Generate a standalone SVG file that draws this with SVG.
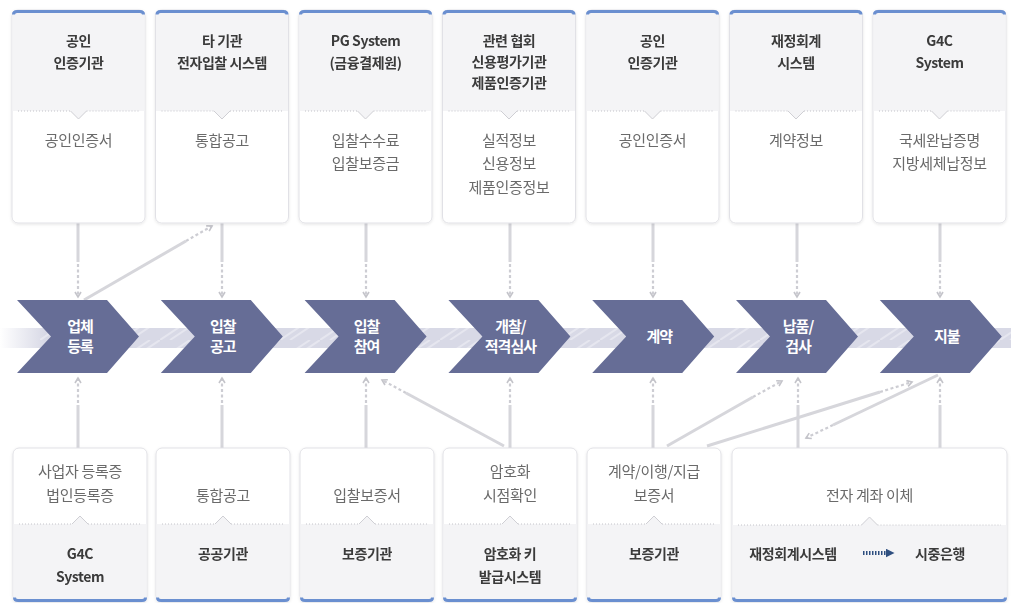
<svg xmlns="http://www.w3.org/2000/svg" xmlns:xlink="http://www.w3.org/1999/xlink" width="1011" height="603" viewBox="0 0 1011 603">
<style>
  .ttl{font-family:"Noto Sans CJK KR","Noto Sans",sans-serif;font-size:14px;font-weight:700;fill:#3a3a3a;text-anchor:middle;letter-spacing:-0.4px}
  .bdy{font-family:"Noto Sans CJK KR","Noto Sans",sans-serif;font-size:15px;font-weight:400;fill:#6a6a6a;text-anchor:middle;letter-spacing:-0.3px}
  .chv{font-family:"Noto Sans CJK KR","Noto Sans",sans-serif;font-size:15px;font-weight:700;fill:#ffffff;text-anchor:middle;letter-spacing:-1px}
  .solid{stroke:#d6d6db;stroke-width:3;fill:none}
  .dash{stroke:#cdcdd3;stroke-width:2.2;stroke-dasharray:3 2.5;fill:none}
  .card{fill:#ffffff;stroke:#e1e1e6;stroke-width:1}
  .gray{fill:#f4f4f6}
  .dots{stroke:#c4c4ca;stroke-width:1;stroke-dasharray:1 2;fill:none}
  .vee{stroke:#cfcfd4;stroke-width:1;fill:none}
  .cap{stroke:#6b8fd0;stroke-width:3;fill:none}
  .chev{fill:#666d96}
</style>
<defs>
  <filter id="sh" x="-10%" y="-10%" width="120%" height="120%">
    <feDropShadow dx="0" dy="1" stdDeviation="1.5" flood-color="#000" flood-opacity="0.10"/>
  </filter>
  <marker id="ah" viewBox="0 0 8 8" refX="6" refY="4" markerWidth="8" markerHeight="8" markerUnits="userSpaceOnUse" orient="auto">
    <path d="M1,1 L6,4 L1,7" stroke="#c4c4ca" stroke-width="1.6" fill="none"/>
  </marker>
  <marker id="ahb" viewBox="0 0 8 8" refX="4" refY="4" markerWidth="9" markerHeight="9" markerUnits="userSpaceOnUse" orient="auto">
    <path d="M0,0 L8,4 L0,8 Z" fill="#2f4f80"/>
  </marker>
  <linearGradient id="bandg" x1="0" y1="0" x2="1" y2="0">
    <stop offset="0" stop-color="#ffffff"/>
    <stop offset="0.045" stop-color="#d8d9e6"/>
    <stop offset="1" stop-color="#d8d9e6"/>
  </linearGradient>
  <pattern id="stripes" width="40" height="20" patternUnits="userSpaceOnUse">
    <path d="M0,20 L30,0 M10,20 L40,0" stroke="#ffffff" stroke-opacity="0.35" stroke-width="2"/>
  </pattern>
  <g id="topbox">
    <rect class="card" x="0" y="0" width="133" height="213" rx="6"/>
    <path class="gray" d="M0.5,6 Q0.5,0.5 6,0.5 H127 Q132.5,0.5 132.5,6 V101 H74.5 L66.5,109 L58.5,101 H0.5 Z"/>
    <path class="dots" d="M6,101 H58.5 M74.5,101 H127"/>
    <path class="vee" d="M58.5,101 L66.5,109 L74.5,101"/>
    <path class="cap" d="M1.5,4.5 Q1.5,1.5 5,1.5 H128 Q131.5,1.5 131.5,4.5"/>
  </g>
  <g id="botbox">
    <rect class="card" x="0" y="0" width="134" height="154" rx="6"/>
    <path class="gray" d="M0.5,76 H59 L67,68 L75,76 H133.5 V148 Q133.5,153.5 128,153.5 H6 Q0.5,153.5 0.5,148 Z"/>
    <path class="dots" d="M6,76 H59 M75,76 H128"/>
    <path class="vee" d="M59,76 L67,68 L75,76"/>
    <path class="cap" d="M1.5,149.5 Q1.5,152.5 5,152.5 H129 Q132.5,152.5 132.5,149.5"/>
  </g>
  <g id="botwide">
    <rect class="card" x="0" y="0" width="275" height="154" rx="6"/>
    <path class="gray" d="M0.5,77 H129.5 L137.5,69 L145.5,77 H274.5 V148 Q274.5,153.5 269,153.5 H6 Q0.5,153.5 0.5,148 Z"/>
    <path class="dots" d="M6,77 H129.5 M145.5,77 H269"/>
    <path class="vee" d="M129.5,77 L137.5,69 L145.5,77"/>
    <path class="cap" d="M1.5,149.5 Q1.5,152.5 5,152.5 H270 Q273.5,152.5 273.5,149.5"/>
  </g>
  <polygon id="chevshape" class="chev" points="0,0 90,0 122,36.5 90,73 0,73 34,36.5"/>
</defs>

<rect x="0" y="0" width="1011" height="603" fill="#ffffff"/>

<g id="band">
  <rect x="0" y="328" width="1011" height="20" fill="url(#bandg)"/>
  <rect x="40" y="328" width="971" height="20" fill="url(#stripes)"/>
</g>

<g id="connectors">
  <g>
    <path class="solid" d="M78,223 V262 M222,223 V262 M366,223 V262 M510,223 V262 M653,223 V262 M797,223 V262 M940,223 V262"/>
    <line class="dash" x1="78" y1="264" x2="78" y2="297" marker-end="url(#ah)"/>
    <line class="dash" x1="222" y1="264" x2="222" y2="297" marker-end="url(#ah)"/>
    <line class="dash" x1="366" y1="264" x2="366" y2="297" marker-end="url(#ah)"/>
    <line class="dash" x1="510" y1="264" x2="510" y2="297" marker-end="url(#ah)"/>
    <line class="dash" x1="653" y1="264" x2="653" y2="297" marker-end="url(#ah)"/>
    <line class="dash" x1="797" y1="264" x2="797" y2="297" marker-end="url(#ah)"/>
    <line class="dash" x1="940" y1="264" x2="940" y2="297" marker-end="url(#ah)"/>
  </g>
  <g>
    <path class="solid" d="M78,448 V405 M222,448 V405 M366,448 V405 M510,448 V405 M653,448 V405 M798,448 V405 M940,448 V405"/>
    <line class="dash" x1="78" y1="403" x2="78" y2="378" marker-end="url(#ah)"/>
    <line class="dash" x1="222" y1="403" x2="222" y2="378" marker-end="url(#ah)"/>
    <line class="dash" x1="366" y1="403" x2="366" y2="378" marker-end="url(#ah)"/>
    <line class="dash" x1="510" y1="403" x2="510" y2="378" marker-end="url(#ah)"/>
    <line class="dash" x1="653" y1="403" x2="653" y2="378" marker-end="url(#ah)"/>
    <line class="dash" x1="798" y1="403" x2="798" y2="378" marker-end="url(#ah)"/>
    <line class="dash" x1="940" y1="403" x2="940" y2="378" marker-end="url(#ah)"/>
  </g>
  <g>
    <line class="solid" x1="84" y1="300" x2="186" y2="241"/>
    <line class="dash" x1="186" y1="241" x2="212" y2="226" marker-end="url(#ah)"/>
    <line class="solid" x1="504" y1="446" x2="406" y2="393"/>
    <line class="dash" x1="406" y1="393" x2="382" y2="380" marker-end="url(#ah)"/>
    <line class="solid" x1="667" y1="446" x2="753" y2="397"/>
    <line class="dash" x1="753" y1="397" x2="782" y2="381" marker-end="url(#ah)"/>
    <line class="solid" x1="707" y1="446" x2="880" y2="392"/>
    <line class="dash" x1="880" y1="392" x2="912" y2="382" marker-end="url(#ah)"/>
    <line class="solid" x1="938" y1="375" x2="833" y2="425"/>
    <line class="dash" x1="833" y1="425" x2="806" y2="438" marker-end="url(#ah)"/>
  </g>
</g>

<g id="top1" transform="translate(12,10)" filter="url(#sh)">
  <use href="#topbox"/>
  <text class="ttl" x="66.5" y="35.5">공인</text>
  <text class="ttl" x="66.5" y="57.5">인증기관</text>
  <text class="bdy" x="66.5" y="135.5">공인인증서</text>
</g>
<g id="top2" transform="translate(155.5,10)" filter="url(#sh)">
  <use href="#topbox"/>
  <text class="ttl" x="66.5" y="35.5">타 기관</text>
  <text class="ttl" x="66.5" y="57.5">전자입찰 시스템</text>
  <text class="bdy" x="66.5" y="135.5">통합공고</text>
</g>
<g id="top3" transform="translate(299,10)" filter="url(#sh)">
  <use href="#topbox"/>
  <text class="ttl" x="66.5" y="35.5">PG System</text>
  <text class="ttl" x="66.5" y="57.5">(금융결제원)</text>
  <text class="bdy" x="66.5" y="135.5">입찰수수료</text>
  <text class="bdy" x="66.5" y="159">입찰보증금</text>
</g>
<g id="top4" transform="translate(442.5,10)" filter="url(#sh)">
  <use href="#topbox"/>
  <text class="ttl" x="66.5" y="35.5">관련 협회</text>
  <text class="ttl" x="66.5" y="56.5">신용평가기관</text>
  <text class="ttl" x="66.5" y="77.5">제품인증기관</text>
  <text class="bdy" x="66.5" y="135.5">실적정보</text>
  <text class="bdy" x="66.5" y="159">신용정보</text>
  <text class="bdy" x="66.5" y="182.5">제품인증정보</text>
</g>
<g id="top5" transform="translate(586,10)" filter="url(#sh)">
  <use href="#topbox"/>
  <text class="ttl" x="66.5" y="35.5">공인</text>
  <text class="ttl" x="66.5" y="57.5">인증기관</text>
  <text class="bdy" x="66.5" y="135.5">공인인증서</text>
</g>
<g id="top6" transform="translate(729.5,10)" filter="url(#sh)">
  <use href="#topbox"/>
  <text class="ttl" x="66.5" y="35.5">재정회계</text>
  <text class="ttl" x="66.5" y="57.5">시스템</text>
  <text class="bdy" x="66.5" y="135.5">계약정보</text>
</g>
<g id="top7" transform="translate(873,10)" filter="url(#sh)">
  <use href="#topbox"/>
  <text class="ttl" x="66.5" y="35.5">G4C</text>
  <text class="ttl" x="66.5" y="57.5">System</text>
  <text class="bdy" x="66.5" y="135.5">국세완납증명</text>
  <text class="bdy" x="66.5" y="159">지방세체납정보</text>
</g>

<g id="step1" transform="translate(17,300)">
  <use href="#chevshape"/>
  <text class="chv" x="63" y="32">업체</text>
  <text class="chv" x="63" y="52">등록</text>
</g>
<g id="step2" transform="translate(160.8,300)">
  <use href="#chevshape"/>
  <text class="chv" x="62" y="32">입찰</text>
  <text class="chv" x="62" y="52">공고</text>
</g>
<g id="step3" transform="translate(304.6,300)">
  <use href="#chevshape"/>
  <text class="chv" x="62" y="32">입찰</text>
  <text class="chv" x="62" y="52">참여</text>
</g>
<g id="step4" transform="translate(448.4,300)">
  <use href="#chevshape"/>
  <text class="chv" x="62" y="32">개찰/</text>
  <text class="chv" x="62" y="52">적격심사</text>
</g>
<g id="step5" transform="translate(592.2,300)">
  <use href="#chevshape"/>
  <text class="chv" x="67" y="42">계약</text>
</g>
<g id="step6" transform="translate(736,300)">
  <use href="#chevshape"/>
  <text class="chv" x="62" y="32">납품/</text>
  <text class="chv" x="62" y="52">검사</text>
</g>
<g id="step7" transform="translate(879.8,300)">
  <use href="#chevshape"/>
  <text class="chv" x="67" y="42">지불</text>
</g>

<g id="bot1" transform="translate(13,448)" filter="url(#sh)">
  <use href="#botbox"/>
  <text class="bdy" x="67" y="28.5">사업자 등록증</text>
  <text class="bdy" x="67" y="52.5">법인등록증</text>
  <text class="ttl" x="67" y="110.5">G4C</text>
  <text class="ttl" x="67" y="133.5">System</text>
</g>
<g id="bot2" transform="translate(156,448)" filter="url(#sh)">
  <use href="#botbox"/>
  <text class="bdy" x="67" y="52.5">통합공고</text>
  <text class="ttl" x="67" y="110.5">공공기관</text>
</g>
<g id="bot3" transform="translate(300,448)" filter="url(#sh)">
  <use href="#botbox"/>
  <text class="bdy" x="67" y="52.5">입찰보증서</text>
  <text class="ttl" x="67" y="110.5">보증기관</text>
</g>
<g id="bot4" transform="translate(443,448)" filter="url(#sh)">
  <use href="#botbox"/>
  <text class="bdy" x="67" y="28.5">암호화</text>
  <text class="bdy" x="67" y="52.5">시점확인</text>
  <text class="ttl" x="67" y="110.5">암호화 키</text>
  <text class="ttl" x="67" y="133.5">발급시스템</text>
</g>
<g id="bot5" transform="translate(587,448)" filter="url(#sh)">
  <use href="#botbox"/>
  <text class="bdy" x="67" y="28.5">계약/이행/지급</text>
  <text class="bdy" x="67" y="52.5">보증서</text>
  <text class="ttl" x="67" y="110.5">보증기관</text>
</g>
<g id="bot6" transform="translate(732,448)" filter="url(#sh)">
  <use href="#botwide"/>
  <text class="bdy" x="137.5" y="52.5">전자 계좌 이체</text>
  <text class="ttl" x="61" y="110.5">재정회계시스템</text>
  <line x1="131" y1="105" x2="158" y2="105" stroke="#2f4f80" stroke-width="4" stroke-dasharray="1.5 1.5" marker-end="url(#ahb)"/>
  <text class="ttl" x="208" y="110.5">시중은행</text>
</g>
</svg>
